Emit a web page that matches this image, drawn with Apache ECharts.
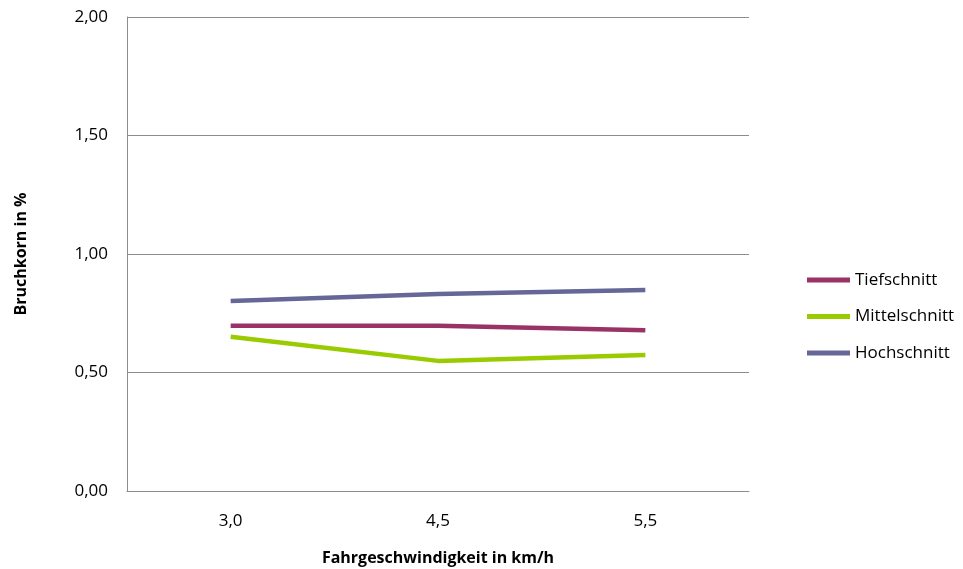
<!DOCTYPE html>
<html>
<head>
<meta charset="utf-8">
<script src="https://cdn.jsdelivr.net/npm/echarts@6/dist/echarts.min.js"></script>
<style>html,body{margin:0;padding:0;background:#fff}#c{width:963px;height:569px}</style>
</head>
<body>
<div id="c"></div>
<script>
const categories = ['3,0', '4,5', '5,5'];
const tiefschnitt = [0.697, 0.697, 0.678];
const mittelschnitt = [0.651, 0.549, 0.574];
const hochschnitt = [0.802, 0.831, 0.848];
const yTicks = [0, 0.5, 1, 1.5, 2];

const FONT = 'Open Sans';
const chart = echarts.init(document.getElementById('c'), null, {renderer: 'canvas'});
const mk = (name, data, color) => ({
  name, type: 'line', data, symbol: 'none', smooth: false,
  lineStyle: {width: 4.5, color}, itemStyle: {color}
});
chart.setOption({
  animation: false,
  backgroundColor: '#ffffff',
  grid: {left: 127, right: 214, top: 17, bottom: 78, containLabel: false, outerBoundsMode: 'none'},
  xAxis: {
    type: 'category', data: categories, boundaryGap: true,
    name: 'Fahrgeschwindigkeit in km/h', nameLocation: 'middle', nameGap: 59,
    nameTextStyle: {fontFamily: FONT, fontSize: 16, fontWeight: 'bold', color: '#000'},
    axisLine: {lineStyle: {color: '#8c8c8c', width: 1}},
    axisTick: {show: false},
    axisLabel: {fontFamily: FONT, fontSize: 17, color: '#000', margin: 22}
  },
  yAxis: {
    type: 'value', min: yTicks[0], max: yTicks[yTicks.length - 1], interval: 0.5,
    name: 'Bruchkorn in %', nameLocation: 'middle', nameGap: 98, nameRotate: 90,
    nameTextStyle: {fontFamily: FONT, fontSize: 16, fontWeight: 'bold', color: '#000'},
    axisLine: {show: true, lineStyle: {color: '#8c8c8c', width: 1}},
    axisTick: {show: false},
    splitLine: {lineStyle: {color: '#8c8c8c', width: 1}},
    axisLabel: {fontFamily: FONT, fontSize: 17, color: '#000', margin: 19,
      formatter: v => v.toFixed(2).replace('.', ',')}
  },
  legend: {
    orient: 'vertical', left: 802, top: 265,
    icon: 'rect', itemWidth: 43, itemHeight: 5, itemGap: 16.5,
    textStyle: {fontFamily: FONT, fontSize: 17, color: '#000', lineHeight: 20, padding: [0, 0, 0, 0]},
    data: ['Tiefschnitt', 'Mittelschnitt', 'Hochschnitt']
  },
  series: [
    mk('Tiefschnitt', tiefschnitt, '#993366'),
    mk('Mittelschnitt', mittelschnitt, '#99cc00'),
    mk('Hochschnitt', hochschnitt, '#666699')
  ]
});
</script>
</body>
</html>
